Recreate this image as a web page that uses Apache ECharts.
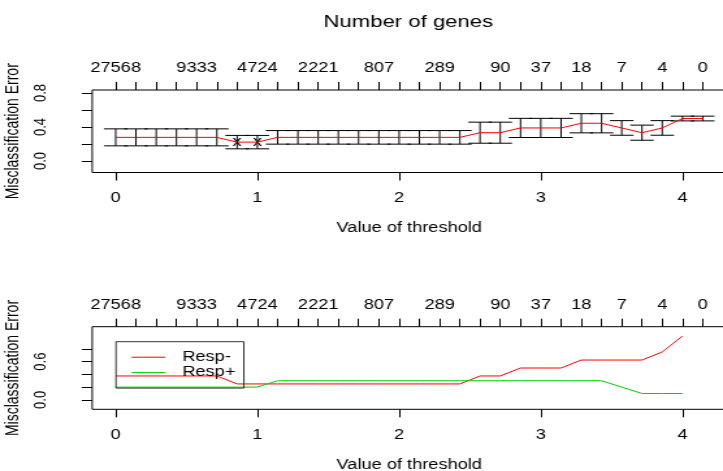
<!DOCTYPE html>
<html><head><meta charset="utf-8">
<script src="https://cdn.jsdelivr.net/npm/echarts@6/dist/echarts.min.js"></script>
<style>
html,body{margin:0;padding:0;background:#fff;overflow:hidden}
#wrap{width:723px;height:471px;overflow:hidden;position:relative;background:#fff}
#chart{width:556px;height:471px;transform:scaleX(1.30036);transform-origin:0 0}
</style></head>
<body><div id="wrap"><div id="chart"></div></div>
<script>
// ---- data ----
const thresholds = [0, 0.143, 0.286, 0.429, 0.571, 0.714, 0.857, 1.0, 1.143, 1.286,
  1.429, 1.571, 1.714, 1.857, 2.0, 2.143, 2.286, 2.429, 2.571, 2.714,
  2.857, 3.0, 3.143, 3.286, 3.429, 3.571, 3.714, 3.857, 4.0, 4.143];
const geneLabelIdx = [0, 4, 7, 10, 13, 16, 19, 21, 23, 25, 27, 29];
const geneLabels = ['27568', '9333', '4724', '2221', '807', '289', '90', '37', '18', '7', '4', '0'];
const cvError = [0.278, 0.278, 0.278, 0.278, 0.278, 0.278, 0.222, 0.222, 0.278, 0.278,
  0.278, 0.278, 0.278, 0.278, 0.278, 0.278, 0.278, 0.278, 0.333, 0.333,
  0.389, 0.389, 0.389, 0.444, 0.444, 0.389, 0.333, 0.389, 0.5, 0.5];
const cvSE = [0.1, 0.1, 0.1, 0.1, 0.1, 0.1, 0.079, 0.079, 0.08, 0.08,
  0.08, 0.08, 0.08, 0.08, 0.08, 0.08, 0.08, 0.08, 0.124, 0.124,
  0.113, 0.113, 0.113, 0.113, 0.113, 0.086, 0.089, 0.086, 0.028, 0.028];
const respMinus = [0.375, 0.375, 0.375, 0.375, 0.375, 0.375, 0.25, 0.25, 0.25, 0.25,
  0.25, 0.25, 0.25, 0.25, 0.25, 0.25, 0.25, 0.25, 0.375, 0.375,
  0.5, 0.5, 0.5, 0.625, 0.625, 0.625, 0.625, 0.75, 1.0];
const respPlus = [0.2, 0.2, 0.2, 0.2, 0.2, 0.2, 0.2, 0.2, 0.3, 0.3,
  0.3, 0.3, 0.3, 0.3, 0.3, 0.3, 0.3, 0.3, 0.3, 0.3,
  0.3, 0.3, 0.3, 0.3, 0.3, 0.2, 0.1, 0.1, 0.1];
const classNames = ['Resp-', 'Resp+'];
const thresholdTicks = [0, 1, 2, 3, 4];
const errTicks = [0, 0.2, 0.4, 0.6, 0.8];
const errLabelsTop = [0, 0.4, 0.8];
const errLabelsBottom = [0, 0.6];

// ---- layout / style ----
const FONT = '"Liberation Sans", Arial, Helvetica, sans-serif';
const span = thresholds[thresholds.length - 1] - thresholds[0];
const xMin = thresholds[0] - 0.04 * span;
const xMax = thresholds[thresholds.length - 1] + 0.04 * span;
const barW = 0.02 * span;
const minErr = Math.min(...cvError);

function geneLabelFor(v) {
  for (let k = 0; k < geneLabelIdx.length; k++) {
    if (Math.abs(thresholds[geneLabelIdx[k]] - v) < 1e-6) return geneLabels[k];
  }
  return '';
}
const txt = (size) => ({ color: '#000', fontSize: size, fontFamily: FONT });

function geneAxis(g) {
  return {
    type: 'value', gridIndex: g, position: 'top', min: xMin, max: xMax,
    axisLine: { show: false, onZero: false }, splitLine: { show: false },
    axisTick: { show: true, length: 8, customValues: thresholds, lineStyle: { color: '#000', width: 1 } },
    axisLabel: Object.assign({ show: true, margin: 14.5, customValues: geneLabelIdx.map(i => thresholds[i]),
      formatter: v => geneLabelFor(v) }, txt(14))
  };
}
function threshAxis(g) {
  return {
    type: 'value', gridIndex: g, position: 'bottom', min: xMin, max: xMax,
    axisLine: { show: false, onZero: false }, splitLine: { show: false },
    axisTick: { show: true, length: 8, customValues: thresholdTicks, lineStyle: { color: '#000', width: 1 } },
    axisLabel: Object.assign({ show: true, margin: 19, customValues: thresholdTicks,
      formatter: v => String(v) }, txt(14)),
    name: 'Value of threshold', nameLocation: 'middle', nameGap: 49,
    nameTextStyle: txt(14)
  };
}
function errAxis(g, lo, hi, labels) {
  return {
    type: 'value', gridIndex: g, position: 'left', min: lo, max: hi,
    axisLine: { show: false, onZero: false }, splitLine: { show: false },
    axisTick: { show: true, length: 8, customValues: errTicks, lineStyle: { color: '#000', width: 1 } },
    axisLabel: Object.assign({ show: true, rotate: 90, margin: 33, customValues: labels,
      formatter: v => v.toFixed(1) }, txt(13)),
    name: 'Misclassification Error', nameLocation: 'middle', nameGap: 51.6,
    nameTextStyle: txt(14)
  };
}

const chart = echarts.init(document.getElementById('chart'), null, { renderer: 'canvas' });
chart.setOption({
  animation: false,
  backgroundColor: '#fff',
  title: {
    text: 'Number of genes', left: 314, top: 14, padding: 0, textAlign: 'center',
    textStyle: Object.assign({ fontWeight: 'normal' }, txt(17))
  },
  legend: {
    orient: 'vertical', left: 89.2, top: 341.7, padding: [8, 6.5, 8, 12],
    itemGap: 0.4, itemWidth: 26, itemHeight: 1,
    borderColor: '#333', borderWidth: 1, backgroundColor: 'transparent',
    selectedMode: false,
    textStyle: Object.assign({ lineHeight: 15, padding: [0, 0, 0, 8] }, txt(14)),
    data: classNames.map(n => ({ name: n, icon: 'rect' }))
  },
  grid: [
    { left: 70.9, top: 90, width: 487.6, height: 82.5, outerBoundsMode: 'none', containLabel: false,
      show: true, borderColor: '#000', borderWidth: 1, backgroundColor: 'transparent' },
    { left: 70.9, top: 326.7, width: 487.6, height: 82.6, outerBoundsMode: 'none', containLabel: false,
      show: true, borderColor: '#000', borderWidth: 1, backgroundColor: 'transparent' }
  ],
  xAxis: [threshAxis(0), geneAxis(0), threshAxis(1), geneAxis(1)],
  yAxis: [errAxis(0, -0.136, 0.836, errLabelsTop), errAxis(1, -0.148, 1.148, errLabelsBottom)],
  series: [
    {
      type: 'line', name: 'error', xAxisIndex: 0, yAxisIndex: 0, symbol: 'none', silent: true,
      color: '#ff0000', lineStyle: { color: '#ff0000', width: 1 },
      data: thresholds.map((t, i) => [t, cvError[i]])
    },
    {
      type: 'custom', name: 'min', xAxisIndex: 0, yAxisIndex: 0, silent: true,
      data: thresholds.map((t, i) => [t, cvError[i]]).filter((d, i) => cvError[i] === minErr),
      renderItem: (p, api) => {
        const c = api.coord([api.value(0), api.value(1)]);
        return { type: 'text', x: c[0], y: c[1], style: { text: 'x', fill: '#000', fontSize: 14, fontFamily: FONT, align: 'center', verticalAlign: 'middle' } };
      }
    },
    {
      type: 'custom', name: 'se', xAxisIndex: 0, yAxisIndex: 0, silent: true,
      encode: { x: 0, y: [1, 2] },
      data: thresholds.map((t, i) => [t, cvError[i] - cvSE[i], cvError[i] + cvSE[i]]),
      renderItem: (p, api) => {
        const t = api.value(0), lo = api.value(1), hi = api.value(2);
        const a = api.coord([t, lo]), b = api.coord([t, hi]);
        const l = api.coord([t - barW, lo])[0], r = api.coord([t + barW, lo])[0];
        const st = { stroke: '#000', lineWidth: 1 };
        return { type: 'group', children: [
          { type: 'line', shape: { x1: a[0], y1: a[1], x2: b[0], y2: b[1] }, style: st },
          { type: 'line', shape: { x1: l, y1: a[1], x2: r, y2: a[1] }, style: st },
          { type: 'line', shape: { x1: l, y1: b[1], x2: r, y2: b[1] }, style: st }
        ] };
      }
    },
    {
      type: 'line', name: classNames[0], xAxisIndex: 2, yAxisIndex: 1, symbol: 'none', silent: true,
      color: '#ff0000', itemStyle: { color: '#ff0000' }, lineStyle: { color: '#ff0000', width: 1 },
      data: respMinus.map((v, i) => [thresholds[i], v])
    },
    {
      type: 'line', name: classNames[1], xAxisIndex: 2, yAxisIndex: 1, symbol: 'none', silent: true,
      color: '#00cd00', itemStyle: { color: '#00cd00' }, lineStyle: { color: '#00cd00', width: 1 },
      data: respPlus.map((v, i) => [thresholds[i], v])
    }
  ]
});
</script></body></html>
